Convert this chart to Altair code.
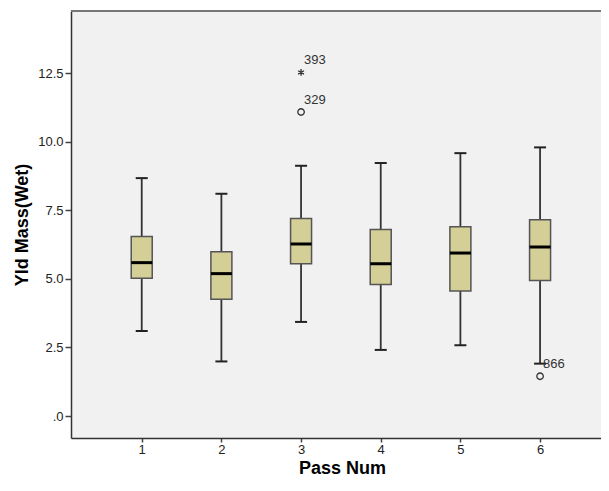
import altair as alt
import pandas as pd

# ---- data ----
pass_num = [1, 2, 3, 4, 5, 6]
whisker_low = [3.10, 1.99, 3.43, 2.41, 2.58, 1.91]
q1 = [5.02, 4.26, 5.55, 4.79, 4.56, 4.94]
median = [5.59, 5.19, 6.27, 5.55, 5.94, 6.16]
q3 = [6.54, 5.99, 7.20, 6.80, 6.90, 7.15]
whisker_high = [8.67, 8.10, 9.12, 9.22, 9.58, 9.79]

out_pass = [3, 3, 6]
out_value = [12.52, 11.08, 1.45]
out_id = ["393", "329", "866"]
out_kind = ["extreme", "outlier", "outlier"]

y_ticks = [0, 2.5, 5.0, 7.5, 10.0, 12.5]
x_ticks = [1, 2, 3, 4, 5, 6]

box_df = pd.DataFrame({"pass": pass_num, "lo": whisker_low, "q1": q1,
                       "med": median, "q3": q3, "hi": whisker_high})
out_df = pd.DataFrame({"pass": out_pass, "value": out_value,
                       "id": out_id, "kind": out_kind})

W, H = 530, 427
FONT = "Liberation Sans"

# 1 unit = 81.2 px, pass 1 sits 67 px from the left edge
xscale = alt.Scale(domain=[0.175, 0.175 + W / 81.2], nice=False, zero=False)
yscale = alt.Scale(domain=[-0.8, 14.76], nice=False, zero=False)

xaxis = alt.Axis(values=x_ticks, format="d", grid=False, tickSize=4,
                 tickColor="#444", tickWidth=1.5, domainColor="#333",
                 domainWidth=1.5, labelFont=FONT, labelFontSize=13,
                 labelColor="#222", labelPadding=1, titleFont=FONT,
                 titleFontSize=18, titleFontWeight="bold", titleColor="#000",
                 titleX=271, titleY=35, titleAlign="center",
                 titleBaseline="alphabetic")
yaxis = alt.Axis(values=y_ticks, grid=False, tickSize=6, tickColor="#444",
                 tickWidth=1.5, domainColor="#333", domainWidth=1.5,
                 labelExpr="datum.value == 0 ? '.0' : format(datum.value, '.1f')",
                 labelFont=FONT, labelFontSize=13, labelColor="#222",
                 labelPadding=2, titleFont=FONT, titleFontSize=18,
                 titleFontWeight="bold", titleColor="#000", titleX=-44,
                 titleY=H / 2, titleAlign="center", titleBaseline="alphabetic")

X = alt.X("pass:Q", scale=xscale, axis=xaxis, title="Pass Num")


def Y(field):
    return alt.Y(f"{field}:Q", scale=yscale, axis=yaxis, title="Yld Mass(Wet)")


base = alt.Chart(box_df)

whisk = base.mark_rule(color="#333", strokeWidth=1.8).encode(
    x=X, y=Y("lo"), y2="hi:Q")
cap_lo = base.mark_tick(orient="horizontal", size=12, thickness=2,
                        color="#222", opacity=1).encode(x=X, y=Y("lo"))
cap_hi = base.mark_tick(orient="horizontal", size=12, thickness=2,
                        color="#222", opacity=1).encode(x=X, y=Y("hi"))
box = base.mark_bar(size=21, fill="#d3cf97", stroke="#555",
                    strokeWidth=1.5).encode(x=X, y=Y("q1"), y2="q3:Q")
med = base.mark_tick(orient="horizontal", size=21, thickness=3,
                     color="#000", opacity=1).encode(x=X, y=Y("med"))

ob = alt.Chart(out_df)
circ = ob.transform_filter("datum.kind == 'outlier'").mark_point(
    shape="circle", filled=False, size=42, strokeWidth=1.3, color="#333",
    opacity=1).encode(x=X, y=Y("value"))
star = ob.transform_filter("datum.kind == 'extreme'").mark_point(
    shape="M0,-1L0,1M-0.87,-0.5L0.87,0.5M-0.87,0.5L0.87,-0.5",
    filled=False, size=45, strokeWidth=1.3, color="#333",
    opacity=1).encode(x=X, y=Y("value"))
lbl = ob.mark_text(align="left", baseline="middle", dx=3, dy=-12,
                   font=FONT, fontSize=13, color="#333").encode(
    x=X, y=Y("value"), text="id:N")

top_line = alt.Chart(box_df).mark_rule(color="#777", strokeWidth=2).encode(
    x=alt.value(0), x2=alt.value(W), y=alt.value(0))

chart = alt.layer(whisk, box, med, cap_lo, cap_hi, circ, star, lbl,
                  top_line).properties(
    width=W, height=H,
    autosize=alt.AutoSizeParams(type="none"),
    padding={"left": 63, "top": 3, "right": 0, "bottom": 40},
    background="white",
).configure_view(fill="#f0f1f0", stroke=None)

chart.save("out.html", embed_options={"renderer": "svg", "actions": False})
